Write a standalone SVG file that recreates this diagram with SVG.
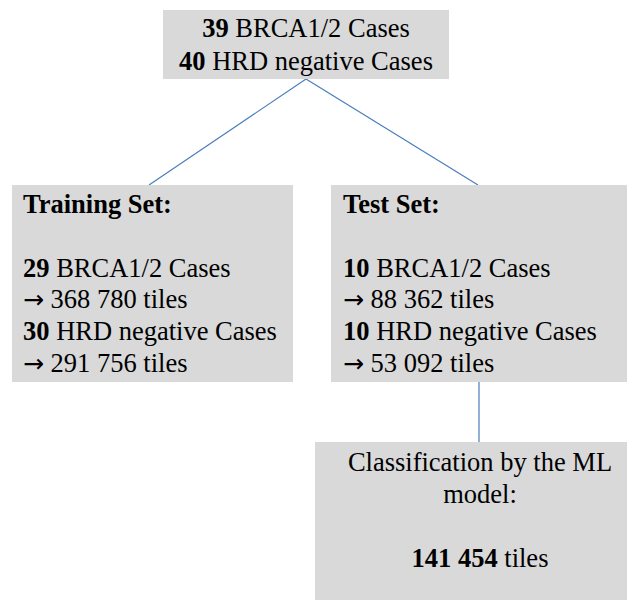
<svg xmlns="http://www.w3.org/2000/svg" width="629" height="602" viewBox="0 0 629 602">
  <style>
    .box { fill: #d9d9d9; }
    .txt { font-family: "Liberation Serif", "Times New Roman", serif; font-size: 26.5px; fill: #000; }
    .b { font-weight: bold; }
    .arr { font-family: "DejaVu Sans", sans-serif; font-size: 25px; }
    .link { stroke: #4a7ebb; stroke-width: 1.2; fill: none; }
  </style>
  <rect width="629" height="602" fill="#ffffff"/>

  <g id="connectors">
    <line class="link" x1="306" y1="79" x2="149" y2="185"/>
    <line class="link" x1="306" y1="79" x2="478" y2="185"/>
    <line class="link" x1="479" y1="382" x2="479" y2="442"/>
  </g>

  <g id="all-cases">
    <rect class="box" x="163" y="10" width="286" height="69"/>
    <text class="txt" x="306" y="37" text-anchor="middle"><tspan class="b">39</tspan> BRCA1/2 Cases</text>
    <text class="txt" x="306" y="70" text-anchor="middle"><tspan class="b">40</tspan> HRD negative Cases</text>
  </g>

  <g id="training-set">
    <rect class="box" x="12" y="185" width="281" height="197"/>
    <text class="txt b" x="23" y="213">Training Set:</text>
    <text class="txt" x="23" y="277"><tspan class="b">29</tspan> BRCA1/2 Cases</text>
    <text class="txt" x="23" y="308"><tspan class="arr">→</tspan> 368 780 tiles</text>
    <text class="txt" x="23" y="340"><tspan class="b">30</tspan> HRD negative Cases</text>
    <text class="txt" x="23" y="372"><tspan class="arr">→</tspan> 291 756 tiles</text>
  </g>

  <g id="test-set">
    <rect class="box" x="331" y="185" width="296" height="197"/>
    <text class="txt b" x="343" y="213">Test Set:</text>
    <text class="txt" x="343" y="277"><tspan class="b">10</tspan> BRCA1/2 Cases</text>
    <text class="txt" x="343" y="308"><tspan class="arr">→</tspan> 88 362 tiles</text>
    <text class="txt" x="343" y="340"><tspan class="b">10</tspan> HRD negative Cases</text>
    <text class="txt" x="343" y="372"><tspan class="arr">→</tspan> 53 092 tiles</text>
  </g>

  <g id="classification">
    <rect class="box" x="315" y="442" width="312" height="158"/>
    <text class="txt" x="480" y="471" text-anchor="middle">Classification by the ML</text>
    <text class="txt" x="480" y="503" text-anchor="middle">model:</text>
    <text class="txt" x="480" y="567" text-anchor="middle"><tspan class="b">141 454</tspan> tiles</text>
  </g>
</svg>
